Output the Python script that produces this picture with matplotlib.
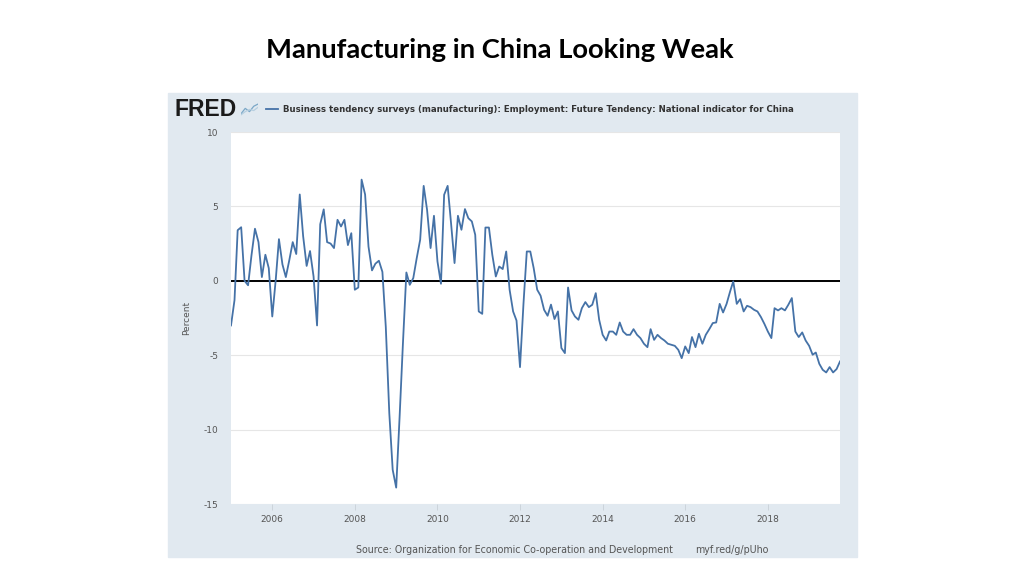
import pandas as pd
import matplotlib.pyplot as plt
import matplotlib.dates as mdates
from matplotlib.patches import Rectangle
from matplotlib.lines import Line2D

plt.rcParams['font.family'] = ['DejaVu Sans']

# monthly values, Jan 2005 .. Oct 2019 (percent)
v2005 = [-3.0, -1.3, 3.4, 3.6, 0.0, -0.3, 1.7, 3.5, 2.6, 0.25, 1.75, 0.85]
v2006 = [-2.4, 0.1, 2.8, 1.1, 0.25, 1.4, 2.6, 1.8, 5.8, 3.0, 1.0, 2.0]
v2007 = [0.3, -3.0, 3.8, 4.8, 2.6, 2.5, 2.2, 4.1, 3.65, 4.1, 2.4, 3.2]
v2008 = [-0.6, -0.45, 6.8, 5.8, 2.3, 0.7, 1.15, 1.35, 0.6, -3.1, -8.9, -12.7]
v2009 = [-13.9, -9.0, -4.3, 0.56, -0.27, 0.18, 1.5, 2.76, 6.38, 4.77, 2.2, 4.37]
v2010 = [1.3, -0.2, 5.78, 6.38, 3.88, 1.19, 4.37, 3.43, 4.82, 4.21, 3.99, 3.09]
v2011 = [-2.06, -2.22, 3.58, 3.58, 1.75, 0.29, 0.96, 0.79, 1.97, -0.6, -2.06, -2.67]
v2012 = [-5.8, -1.5, 1.97, 1.97, 0.85, -0.6, -1.0, -1.95, -2.35, -1.6, -2.57, -2.06]
v2013 = [-4.52, -4.86, -0.45, -1.99, -2.4, -2.62, -1.84, -1.43, -1.77, -1.61, -0.83, -2.62]
v2014 = [-3.63, -4.01, -3.41, -3.41, -3.63, -2.8, -3.41, -3.63, -3.63, -3.25, -3.63, -3.85]
v2015 = [-4.23, -4.46, -3.25, -3.97, -3.63, -3.85, -4.01, -4.23, -4.3, -4.37, -4.64, -5.2]
v2016 = [-4.41, -4.86, -3.78, -4.46, -3.56, -4.23, -3.63, -3.25, -2.84, -2.8, -1.55, -2.13]
v2017 = [-1.55, -0.72, -0.04, -1.55, -1.23, -2.06, -1.68, -1.77, -1.95, -2.06, -2.44, -2.89]
v2018 = [-3.41, -3.85, -1.84, -1.99, -1.84, -1.99, -1.61, -1.16, -3.41, -3.78, -3.47, -4.01]
v2019 = [-4.37, -4.97, -4.82, -5.58, -5.98, -6.16, -5.8, -6.16, -5.93, -5.42]

values = (v2005 + v2006 + v2007 + v2008 + v2009 + v2010 + v2011 + v2012
          + v2013 + v2014 + v2015 + v2016 + v2017 + v2018 + v2019)
dates = pd.date_range('2005-01-01', periods=len(values), freq='MS')

y_ticks = [10, 5, 0, -5, -10, -15]
x_years = [2006, 2008, 2010, 2012, 2014, 2016, 2018]

title = 'Manufacturing in China Looking Weak'
series_name = 'Business tendency surveys (manufacturing): Employment: Future Tendency: National indicator for China'
source = 'Source: Organization for Economic Co-operation and Development'
link = 'myf.red/g/pUho'

W, H = 1024, 576
fig = plt.figure(figsize=(W / 100, H / 100), dpi=100, facecolor='white')

# FRED grey-blue panel (behind the axes)
fig.patches.append(Rectangle((168 / W, 1 - 557 / H), 689 / W, 464 / H,
                             transform=fig.transFigure, color='#e1e9f0', zorder=-5))

fig.text(500 / W, 1 - 50 / H, title, ha='center', va='center',
         fontsize=19.7, fontweight='bold', family=['Lato', 'DejaVu Sans'])

# header: logo + legend
fig.text(175 / W, 1 - 110 / H, 'FRED', ha='left', va='center', fontsize=16.5,
         fontweight='heavy', color='#1a1a1a', family=['Liberation Sans', 'DejaVu Sans'])
icon = fig.add_axes([241 / W, 1 - 117 / H, 17 / W, 14 / H], zorder=2)
icon.plot([0, 1, 2, 3, 4], [0.1, 0.6, 0.3, 0.8, 1.0], color='#7aa7c7', lw=0.9)
icon.plot([0, 1, 2, 3, 4], [0.0, 0.3, 0.5, 0.4, 0.7], color='#b6cfe0', lw=0.9)
icon.set_xlim(0, 4)
icon.set_ylim(-0.2, 1.1)
icon.axis('off')
fig.lines.append(Line2D([266 / W, 278 / W], [1 - 109 / H, 1 - 109 / H],
                        transform=fig.transFigure, color='#4572a7', lw=1.3))
fig.text(283 / W, 1 - 109 / H, series_name, ha='left', va='center', fontsize=6.25,
         fontweight='bold', color='#333333')

ax = fig.add_axes([231 / W, 1 - 504 / H, 609 / W, 372 / H])
ax.set_facecolor('white')
ax.plot(dates, values, color='#4572a7', lw=1.3, zorder=3)
ax.axhline(0, color='black', lw=1.4, zorder=2)
ax.set_ylim(-15, 10)
ax.set_xlim(dates[0], dates[-1])
ax.set_yticks(y_ticks)
ax.set_yticklabels([str(t) for t in y_ticks])
ax.grid(axis='y', color='#e6e6e6', lw=0.8)
ax.set_axisbelow(True)
ax.set_xticks([pd.Timestamp(f'{y}-01-01') for y in x_years])
ax.xaxis.set_major_formatter(mdates.DateFormatter('%Y'))
for s in ax.spines.values():
    s.set_visible(False)
ax.tick_params(axis='y', length=0, pad=9, labelsize=6.5, labelcolor='#555555')
ax.tick_params(axis='x', length=4, width=0.6, color='#c8d0d8', pad=4,
               labelsize=6.5, labelcolor='#555555')
ax.set_ylabel('Percent', fontsize=6.5, color='#555555', labelpad=9)

fig.text(356 / W, 1 - 550 / H, source, ha='left', va='center', fontsize=6.85,
         color='#555555')
fig.text(769 / W, 1 - 550 / H, link, ha='right', va='center', fontsize=6.85,
         color='#555555')

fig.savefig('out.png', dpi=100, facecolor='white')
